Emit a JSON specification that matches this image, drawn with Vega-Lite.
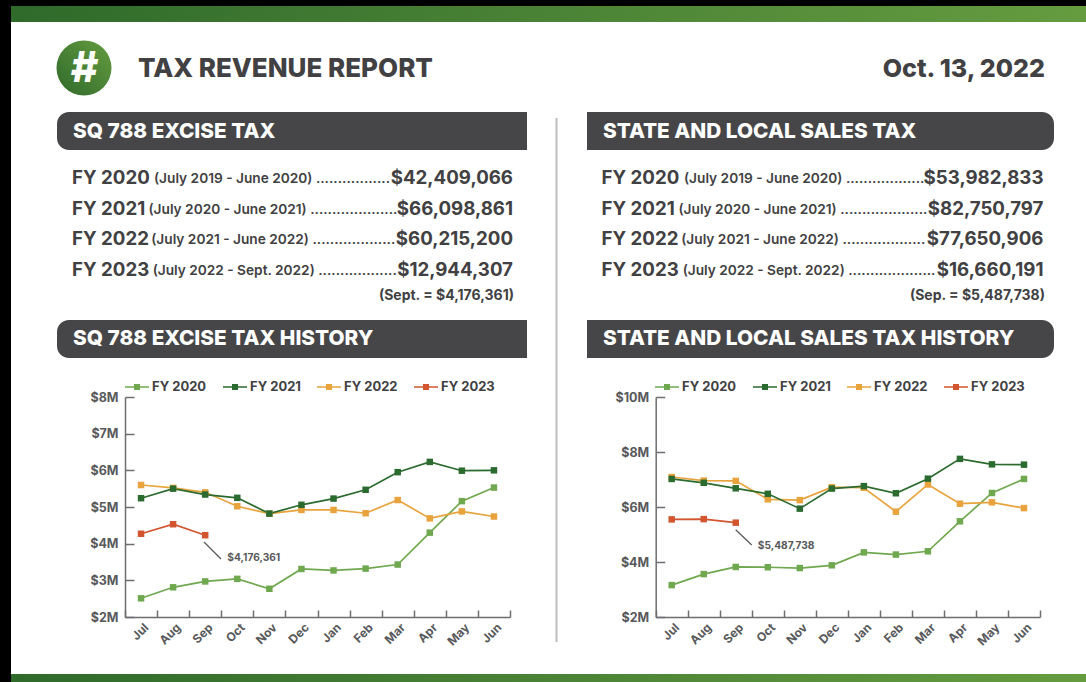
{
"$schema":"https://vega.github.io/schema/vega-lite/v6.json",
"width":1086,"height":682,"autosize":"none","padding":0,"background":"#000000",
"config":{"view":{"stroke":null},"text":{"font":"Inter"},"legend":{"labelFont":"Inter"}},
"datasets":{
"excise":[
{"fy":"FY 2020","month":"Jul","value":2510000},{"fy":"FY 2020","month":"Aug","value":2810000},{"fy":"FY 2020","month":"Sep","value":2970000},{"fy":"FY 2020","month":"Oct","value":3040000},{"fy":"FY 2020","month":"Nov","value":2770000},{"fy":"FY 2020","month":"Dec","value":3310000},{"fy":"FY 2020","month":"Jan","value":3270000},{"fy":"FY 2020","month":"Feb","value":3320000},{"fy":"FY 2020","month":"Mar","value":3430000},{"fy":"FY 2020","month":"Apr","value":4300000},{"fy":"FY 2020","month":"May","value":5160000},{"fy":"FY 2020","month":"Jun","value":5530000},
{"fy":"FY 2022","month":"Jul","value":5600000},{"fy":"FY 2022","month":"Aug","value":5520000},{"fy":"FY 2022","month":"Sep","value":5400000},{"fy":"FY 2022","month":"Oct","value":5020000},{"fy":"FY 2022","month":"Nov","value":4820000},{"fy":"FY 2022","month":"Dec","value":4920000},{"fy":"FY 2022","month":"Jan","value":4920000},{"fy":"FY 2022","month":"Feb","value":4830000},{"fy":"FY 2022","month":"Mar","value":5190000},{"fy":"FY 2022","month":"Apr","value":4690000},{"fy":"FY 2022","month":"May","value":4880000},{"fy":"FY 2022","month":"Jun","value":4740000},
{"fy":"FY 2021","month":"Jul","value":5240000},{"fy":"FY 2021","month":"Aug","value":5500000},{"fy":"FY 2021","month":"Sep","value":5340000},{"fy":"FY 2021","month":"Oct","value":5250000},{"fy":"FY 2021","month":"Nov","value":4820000},{"fy":"FY 2021","month":"Dec","value":5060000},{"fy":"FY 2021","month":"Jan","value":5230000},{"fy":"FY 2021","month":"Feb","value":5470000},{"fy":"FY 2021","month":"Mar","value":5950000},{"fy":"FY 2021","month":"Apr","value":6230000},{"fy":"FY 2021","month":"May","value":5990000},{"fy":"FY 2021","month":"Jun","value":6000000},
{"fy":"FY 2023","month":"Jul","value":4270000},{"fy":"FY 2023","month":"Aug","value":4530000},{"fy":"FY 2023","month":"Sep","value":4230000}],
"sales":[
{"fy":"FY 2020","month":"Jul","value":3160000},{"fy":"FY 2020","month":"Aug","value":3560000},{"fy":"FY 2020","month":"Sep","value":3820000},{"fy":"FY 2020","month":"Oct","value":3810000},{"fy":"FY 2020","month":"Nov","value":3780000},{"fy":"FY 2020","month":"Dec","value":3880000},{"fy":"FY 2020","month":"Jan","value":4350000},{"fy":"FY 2020","month":"Feb","value":4270000},{"fy":"FY 2020","month":"Mar","value":4390000},{"fy":"FY 2020","month":"Apr","value":5480000},{"fy":"FY 2020","month":"May","value":6510000},{"fy":"FY 2020","month":"Jun","value":7020000},
{"fy":"FY 2022","month":"Jul","value":7090000},{"fy":"FY 2022","month":"Aug","value":6960000},{"fy":"FY 2022","month":"Sep","value":6950000},{"fy":"FY 2022","month":"Oct","value":6280000},{"fy":"FY 2022","month":"Nov","value":6250000},{"fy":"FY 2022","month":"Dec","value":6720000},{"fy":"FY 2022","month":"Jan","value":6700000},{"fy":"FY 2022","month":"Feb","value":5830000},{"fy":"FY 2022","month":"Mar","value":6820000},{"fy":"FY 2022","month":"Apr","value":6120000},{"fy":"FY 2022","month":"May","value":6170000},{"fy":"FY 2022","month":"Jun","value":5960000},
{"fy":"FY 2021","month":"Jul","value":7020000},{"fy":"FY 2021","month":"Aug","value":6880000},{"fy":"FY 2021","month":"Sep","value":6680000},{"fy":"FY 2021","month":"Oct","value":6480000},{"fy":"FY 2021","month":"Nov","value":5940000},{"fy":"FY 2021","month":"Dec","value":6670000},{"fy":"FY 2021","month":"Jan","value":6760000},{"fy":"FY 2021","month":"Feb","value":6500000},{"fy":"FY 2021","month":"Mar","value":7030000},{"fy":"FY 2021","month":"Apr","value":7750000},{"fy":"FY 2021","month":"May","value":7550000},{"fy":"FY 2021","month":"Jun","value":7540000},
{"fy":"FY 2023","month":"Jul","value":5550000},{"fy":"FY 2023","month":"Aug","value":5560000},{"fy":"FY 2023","month":"Sep","value":5430000}],
"exciseTable":[
{"fy":"FY 2020","period":"(July 2019 - June 2020) .................","amount":"$42,409,066"},
{"fy":"FY 2021","period":"(July 2020 - June 2021) ....................","amount":"$66,098,861"},
{"fy":"FY 2022","period":"(July 2021 - June 2022) ...................","amount":"$60,215,200"},
{"fy":"FY 2023","period":"(July 2022 - Sept. 2022) ..................","amount":"$12,944,307"}],
"salesTable":[
{"fy":"FY 2020","period":"(July 2019 - June 2020) ..................","amount":"$53,982,833"},
{"fy":"FY 2021","period":"(July 2020 - June 2021) ....................","amount":"$82,750,797"},
{"fy":"FY 2022","period":"(July 2021 - June 2022) ...................","amount":"$77,650,906"},
{"fy":"FY 2023","period":"(July 2022 - Sept. 2022) ....................","amount":"$16,660,191"}]
},
"resolve":{"scale":{"x":"independent","y":"independent","color":"independent"},"axis":{"x":"independent","y":"independent"},"legend":{"color":"independent"}},
"layer":[
{"data":{"values":[{"part":"page"}]},"mark":{"type":"rect","color":"#ffffff"},
 "encoding":{"x":{"datum":0,"type":"quantitative","scale":{"domain":[0,1],"range":[11,1086]},"axis":null},"x2":{"datum":1},"y":{"datum":0,"type":"quantitative","scale":{"domain":[0,1],"range":[6,682]},"axis":null},"y2":{"datum":1}}},
{"data":{"values":[{"part":"top band"}]},"mark":{"type":"rect","color":{"gradient":"linear","x1":0,"y1":0,"x2":1,"y2":0,"stops":[{"offset":0,"color":"#2f6a2b"},{"offset":1,"color":"#659c40"}]}},
 "encoding":{"x":{"datum":0,"type":"quantitative","scale":{"domain":[0,1],"range":[11,1086]},"axis":null},"x2":{"datum":1},"y":{"datum":0,"type":"quantitative","scale":{"domain":[0,1],"range":[6,22]},"axis":null},"y2":{"datum":1}}},
{"data":{"values":[{"part":"bottom band"}]},"mark":{"type":"rect","color":{"gradient":"linear","x1":0,"y1":0,"x2":1,"y2":0,"stops":[{"offset":0,"color":"#2f6a2b"},{"offset":1,"color":"#659c40"}]}},
 "encoding":{"x":{"datum":0,"type":"quantitative","scale":{"domain":[0,1],"range":[11,1086]},"axis":null},"x2":{"datum":1},"y":{"datum":0,"type":"quantitative","scale":{"domain":[0,1],"range":[674,682]},"axis":null},"y2":{"datum":1}}},
{"data":{"values":[{"part":"divider"}]},"mark":{"type":"rule","color":"#bcbec0","strokeWidth":2},
 "encoding":{"x":{"datum":0,"type":"quantitative","scale":{"domain":[0,1],"range":[556.5,557]},"axis":null},"y":{"datum":0,"type":"quantitative","scale":{"domain":[0,1],"range":[118,642]},"axis":null},"y2":{"datum":1}}},
{"data":{"values":[{"icon":"#","title":"TAX REVENUE REPORT","date":"Oct. 13, 2022"}]},
 "encoding":{"y":{"datum":0,"type":"quantitative","scale":{"domain":[0,1],"range":[68,682]},"axis":null},
  "x":{"datum":84,"type":"quantitative","scale":{"domain":[0,1086],"range":[0,1086]},"axis":null}},
 "layer":[
 {"mark":{"type":"point","shape":"circle","filled":true,"opacity":1,"size":3025,"color":{"gradient":"linear","x1":0,"y1":1,"x2":1,"y2":0,"stops":[{"offset":0,"color":"#2f6a2b"},{"offset":1,"color":"#659c40"}]}}},
 {"mark":{"type":"text","align":"center","baseline":"middle","dy":1,"fontSize":42,"fontWeight":800,"fontStyle":"italic","color":"#ffffff"},"encoding":{"text":{"field":"icon"}}},
 {"mark":{"type":"text","align":"left","baseline":"middle","dy":1,"fontSize":26,"fontWeight":800,"color":"#414042"},"encoding":{"x":{"datum":138,"type":"quantitative"},"text":{"field":"title"}}},
 {"mark":{"type":"text","align":"right","baseline":"middle","dy":1,"fontSize":25,"fontWeight":800,"color":"#414042"},"encoding":{"x":{"datum":1045,"type":"quantitative"},"text":{"field":"date"}}}
 ]},
{"data":{"values":[{"title":"SQ 788 EXCISE TAX"},{"title":"SQ 788 EXCISE TAX HISTORY"}]},
 "encoding":{"y":{"field":"title","type":"nominal","scale":{"type":"band","domain":["SQ 788 EXCISE TAX","SQ 788 EXCISE TAX HISTORY"],"range":[112,358],"paddingInner":0.8173,"paddingOuter":0},"axis":null}},
 "layer":[
 {"mark":{"type":"rect","color":"#464648","cornerRadiusTopLeft":12,"cornerRadiusBottomLeft":12},"encoding":{"x":{"datum":0,"type":"quantitative","scale":{"domain":[0,470],"range":[57,527]},"axis":null},"x2":{"datum":470}}},
 {"mark":{"type":"text","align":"left","baseline":"middle","dy":0.5,"fontSize":20.8,"fontWeight":800,"color":"#ffffff"},"encoding":{"x":{"datum":16,"type":"quantitative","scale":{"domain":[0,470],"range":[57,527]},"axis":null},"text":{"field":"title"}}}
 ]},
{"data":{"values":[{"title":"STATE AND LOCAL SALES TAX"},{"title":"STATE AND LOCAL SALES TAX HISTORY"}]},
 "encoding":{"y":{"field":"title","type":"nominal","scale":{"type":"band","domain":["STATE AND LOCAL SALES TAX","STATE AND LOCAL SALES TAX HISTORY"],"range":[112,358],"paddingInner":0.8173,"paddingOuter":0},"axis":null}},
 "layer":[
 {"mark":{"type":"rect","color":"#464648","cornerRadiusTopRight":12,"cornerRadiusBottomRight":12},"encoding":{"x":{"datum":0,"type":"quantitative","scale":{"domain":[0,467],"range":[587,1054]},"axis":null},"x2":{"datum":467}}},
 {"mark":{"type":"text","align":"left","baseline":"middle","dy":0.5,"fontSize":20.8,"fontWeight":800,"color":"#ffffff"},"encoding":{"x":{"datum":16,"type":"quantitative","scale":{"domain":[0,467],"range":[587,1054]},"axis":null},"text":{"field":"title"}}}
 ]},
{"data":{"name":"exciseTable"},
 "encoding":{"y":{"field":"fy","type":"nominal","scale":{"type":"point","padding":0,"domain":["FY 2020","FY 2021","FY 2022","FY 2023","note"],"range":[177,299.67]},"axis":null}},
 "layer":[
 {"mark":{"type":"text","align":"left","baseline":"middle","dy":1,"fontSize":18.7,"fontWeight":700,"color":"#414042"},"encoding":{"x":{"datum":15,"type":"quantitative","scale":{"domain":[0,470],"range":[57,527]},"axis":null},"text":{"field":"fy"}}},
 {"mark":{"type":"text","align":"left","baseline":"middle","dy":2,"fontSize":13.7,"fontWeight":600,"color":"#414042"},"encoding":{"x":{"datum":95,"type":"quantitative","scale":{"domain":[0,470],"range":[57,527]},"axis":null},"xOffset":{"field":"fy","type":"nominal","legend":null,"scale":{"type":"point","padding":0,"domain":["FY 2021","spare","FY 2022","FY 2023","FY 2020"],"range":[-3.5,2]}},"text":{"field":"period"}}},
 {"mark":{"type":"text","align":"right","baseline":"middle","dy":1,"fontSize":18.7,"fontWeight":700,"color":"#414042"},"encoding":{"x":{"datum":456,"type":"quantitative","scale":{"domain":[0,470],"range":[57,527]},"axis":null},"text":{"field":"amount"}}},
 {"data":{"values":[{"fy":"note","note":"(Sept. = $4,176,361)"}]},"mark":{"type":"text","align":"right","baseline":"middle","dy":-3.5,"fontSize":14,"fontWeight":700,"color":"#414042"},"encoding":{"x":{"datum":457,"type":"quantitative","scale":{"domain":[0,470],"range":[57,527]},"axis":null},"text":{"field":"note"}}}
 ]},
{"data":{"name":"salesTable"},
 "encoding":{"y":{"field":"fy","type":"nominal","scale":{"type":"point","padding":0,"domain":["FY 2020","FY 2021","FY 2022","FY 2023","note"],"range":[177,299.67]},"axis":null}},
 "layer":[
 {"mark":{"type":"text","align":"left","baseline":"middle","dy":1,"fontSize":18.7,"fontWeight":700,"color":"#414042"},"encoding":{"x":{"datum":14.5,"type":"quantitative","scale":{"domain":[0,467],"range":[587,1054]},"axis":null},"text":{"field":"fy"}}},
 {"mark":{"type":"text","align":"left","baseline":"middle","dy":2,"fontSize":13.7,"fontWeight":600,"color":"#414042"},"encoding":{"x":{"datum":95,"type":"quantitative","scale":{"domain":[0,467],"range":[587,1054]},"axis":null},"xOffset":{"field":"fy","type":"nominal","legend":null,"scale":{"type":"point","padding":0,"domain":["FY 2021","spare","FY 2022","FY 2023","FY 2020"],"range":[-3.5,2]}},"text":{"field":"period"}}},
 {"mark":{"type":"text","align":"right","baseline":"middle","dy":1,"fontSize":18.7,"fontWeight":700,"color":"#414042"},"encoding":{"x":{"datum":456.5,"type":"quantitative","scale":{"domain":[0,467],"range":[587,1054]},"axis":null},"text":{"field":"amount"}}},
 {"data":{"values":[{"fy":"note","note":"(Sep. = $5,487,738)"}]},"mark":{"type":"text","align":"right","baseline":"middle","dy":-3.5,"fontSize":14,"fontWeight":700,"color":"#414042"},"encoding":{"x":{"datum":458,"type":"quantitative","scale":{"domain":[0,467],"range":[587,1054]},"axis":null},"text":{"field":"note"}}}
 ]},
{"data":{"name":"excise"},"mark":{"type":"line","strokeWidth":1.7},
 "encoding":{
  "x":{"field":"month","type":"ordinal","title":null,"scale":{"type":"band","domain":["Jul","Aug","Sep","Oct","Nov","Dec","Jan","Feb","Mar","Apr","May","Jun"],"range":[125,510],"paddingInner":0,"paddingOuter":0},
   "axis":{"orient":"bottom","offset":-65,"zindex":1,"tickBand":"extent","tickSize":-7,"tickWidth":1.5,"tickColor":"#6d6e71","domainColor":"#6d6e71","domainWidth":1.5,"labelAngle":-45,"labelAlign":"right","labelBaseline":"middle","labelPadding":15,"labelOffset":5,"labelFont":"Inter","labelFontSize":12,"labelFontWeight":700,"labelColor":"#58595b","grid":false}},
  "y":{"field":"value","type":"quantitative","title":null,"scale":{"domain":[2000000,8000000],"range":[617,397],"nice":false,"zero":false},
   "axis":{"orient":"left","offset":-125,"zindex":1,"values":[2000000,3000000,4000000,5000000,6000000,7000000,8000000],"labelExpr":"'$' + (datum.value / 1000000) + 'M'","tickSize":-9,"tickWidth":1.5,"tickColor":"#6d6e71","domainColor":"#6d6e71","domainWidth":1.5,"labelPadding":16,"labelFont":"Inter","labelFontSize":12.5,"labelFontWeight":700,"labelColor":"#58595b","grid":false}},
  "color":{"field":"fy","type":"nominal","legend":null,"scale":{"domain":["FY 2020","FY 2021","FY 2022","FY 2023"],"range":["#6fa84f","#2c6b2f","#e8a33d","#d2552f"]}}}},
{"data":{"name":"excise"},"mark":{"type":"square","size":42,"opacity":1},
 "encoding":{
  "x":{"field":"month","type":"ordinal","scale":{"type":"band","domain":["Jul","Aug","Sep","Oct","Nov","Dec","Jan","Feb","Mar","Apr","May","Jun"],"range":[125,510],"paddingInner":0,"paddingOuter":0},"axis":null},
  "y":{"field":"value","type":"quantitative","scale":{"domain":[2000000,8000000],"range":[617,397],"nice":false,"zero":false},"axis":null},
  "color":{"field":"fy","type":"nominal","scale":{"domain":["FY 2020","FY 2021","FY 2022","FY 2023"],"range":["#6fa84f","#2c6b2f","#e8a33d","#d2552f"]},
   "legend":{"orient":"none","legendX":125,"legendY":375,"direction":"horizontal","columns":4,"title":null,"padding":0,"symbolType":"M-1,-0.06H-0.25V-0.25H0.25V-0.06H1V0.06H0.25V0.25H-0.25V0.06H-1Z","symbolSize":576,"symbolStrokeWidth":0,"labelOffset":3,"columnPadding":16,"labelFont":"Inter","labelFontSize":13,"labelFontWeight":700,"labelColor":"#414042"}}}},
{"data":{"values":[{"month":"Oct","value":3610000,"label":"$4,176,361"}]},"mark":{"type":"text","align":"left","baseline":"middle","dx":-10,"fontSize":10.2,"fontWeight":700,"color":"#58595b"},
 "encoding":{
  "x":{"field":"month","type":"ordinal","scale":{"type":"band","domain":["Jul","Aug","Sep","Oct","Nov","Dec","Jan","Feb","Mar","Apr","May","Jun"],"range":[125,510],"paddingInner":0,"paddingOuter":0},"axis":null},
  "y":{"field":"value","type":"quantitative","scale":{"domain":[2000000,8000000],"range":[617,397],"nice":false,"zero":false},"axis":null},
  "text":{"field":"label"}}},
{"data":{"values":[{"note":"Sept. leader"}]},"mark":{"type":"rule","color":"#58595b","strokeWidth":1.3},
 "encoding":{"x":{"datum":0,"type":"quantitative","scale":{"domain":[0,1],"range":[204,221]},"axis":null},"x2":{"datum":1},"y":{"datum":0,"type":"quantitative","scale":{"domain":[0,1],"range":[542,559]},"axis":null},"y2":{"datum":1}}},
{"data":{"name":"sales"},"mark":{"type":"line","strokeWidth":1.7},
 "encoding":{
  "x":{"field":"month","type":"ordinal","title":null,"scale":{"type":"band","domain":["Jul","Aug","Sep","Oct","Nov","Dec","Jan","Feb","Mar","Apr","May","Jun"],"range":[655.7,1040],"paddingInner":0,"paddingOuter":0},
   "axis":{"orient":"bottom","offset":-65,"zindex":1,"tickBand":"extent","tickSize":-7,"tickWidth":1.5,"tickColor":"#6d6e71","domainColor":"#6d6e71","domainWidth":1.5,"labelAngle":-45,"labelAlign":"right","labelBaseline":"middle","labelPadding":15,"labelOffset":5,"labelFont":"Inter","labelFontSize":12,"labelFontWeight":700,"labelColor":"#58595b","grid":false}},
  "y":{"field":"value","type":"quantitative","title":null,"scale":{"domain":[2000000,10000000],"range":[617,397],"nice":false,"zero":false},
   "axis":{"orient":"left","offset":-655.7,"zindex":1,"values":[2000000,4000000,6000000,8000000,10000000],"labelExpr":"'$' + (datum.value / 1000000) + 'M'","tickSize":-9,"tickWidth":1.5,"tickColor":"#6d6e71","domainColor":"#6d6e71","domainWidth":1.5,"labelPadding":16,"labelFont":"Inter","labelFontSize":12.5,"labelFontWeight":700,"labelColor":"#58595b","grid":false}},
  "color":{"field":"fy","type":"nominal","legend":null,"scale":{"domain":["FY 2020","FY 2021","FY 2022","FY 2023"],"range":["#6fa84f","#2c6b2f","#e8a33d","#d2552f"]}}}},
{"data":{"name":"sales"},"mark":{"type":"square","size":42,"opacity":1},
 "encoding":{
  "x":{"field":"month","type":"ordinal","scale":{"type":"band","domain":["Jul","Aug","Sep","Oct","Nov","Dec","Jan","Feb","Mar","Apr","May","Jun"],"range":[655.7,1040],"paddingInner":0,"paddingOuter":0},"axis":null},
  "y":{"field":"value","type":"quantitative","scale":{"domain":[2000000,10000000],"range":[617,397],"nice":false,"zero":false},"axis":null},
  "color":{"field":"fy","type":"nominal","scale":{"domain":["FY 2020","FY 2021","FY 2022","FY 2023"],"range":["#6fa84f","#2c6b2f","#e8a33d","#d2552f"]},
   "legend":{"orient":"none","legendX":655,"legendY":375,"direction":"horizontal","columns":4,"title":null,"padding":0,"symbolType":"M-1,-0.06H-0.25V-0.25H0.25V-0.06H1V0.06H0.25V0.25H-0.25V0.06H-1Z","symbolSize":576,"symbolStrokeWidth":0,"labelOffset":3,"columnPadding":16,"labelFont":"Inter","labelFontSize":13,"labelFontWeight":700,"labelColor":"#414042"}}}},
{"data":{"values":[{"month":"Oct","value":4600000,"label":"$5,487,738"}]},"mark":{"type":"text","align":"left","baseline":"middle","dx":-10,"fontSize":10.2,"fontWeight":700,"color":"#58595b"},
 "encoding":{
  "x":{"field":"month","type":"ordinal","scale":{"type":"band","domain":["Jul","Aug","Sep","Oct","Nov","Dec","Jan","Feb","Mar","Apr","May","Jun"],"range":[655.7,1040],"paddingInner":0,"paddingOuter":0},"axis":null},
  "y":{"field":"value","type":"quantitative","scale":{"domain":[2000000,10000000],"range":[617,397],"nice":false,"zero":false},"axis":null},
  "text":{"field":"label"}}},
{"data":{"values":[{"note":"Sep. leader"}]},"mark":{"type":"rule","color":"#58595b","strokeWidth":1.3},
 "encoding":{"x":{"datum":0,"type":"quantitative","scale":{"domain":[0,1],"range":[735.7,751.7]},"axis":null},"x2":{"datum":1},"y":{"datum":0,"type":"quantitative","scale":{"domain":[0,1],"range":[529.7,545]},"axis":null},"y2":{"datum":1}}}
]}
